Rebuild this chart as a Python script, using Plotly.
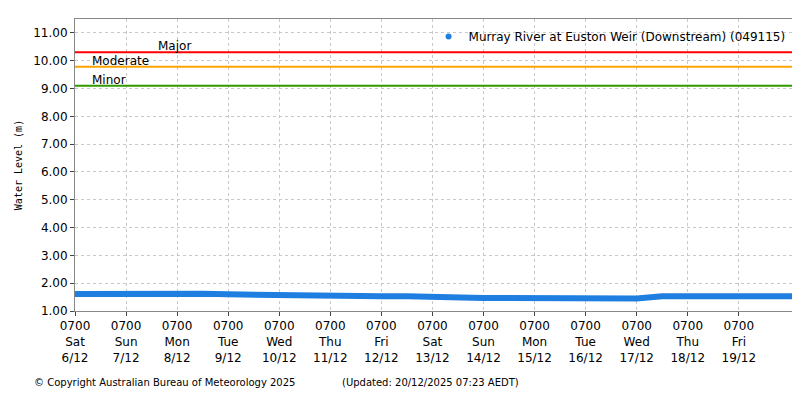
import pandas as pd
import plotly.graph_objects as go

# water level readings, every 12 hours from 0700 6/12
levels = [1.61, 1.62, 1.63, 1.63, 1.63, 1.62, 1.60, 1.58, 1.57, 1.56, 1.55, 1.54,
          1.53, 1.53, 1.50, 1.48, 1.47, 1.47, 1.46, 1.46, 1.45, 1.45, 1.45, 1.53,
          1.52, 1.51, 1.52, 1.53, 1.51, 1.53]
times = pd.date_range("2025-12-06 07:00", periods=len(levels), freq="12h")

thresholds = {"Major": 10.3, "Moderate": 9.78, "Minor": 9.1}
threshold_colors = {"Major": "#ff0000", "Moderate": "#ffa500", "Minor": "#339900"}
label_x = {"Major": "2025-12-07 21:00", "Moderate": "2025-12-06 14:00", "Minor": "2025-12-06 14:00"}

days = pd.date_range("2025-12-06 07:00", periods=14, freq="D")
tick_text = [f"0700<br>{d.strftime('%a')}<br>{d.day}/{d.month}" for d in days]
x_end = pd.Timestamp("2025-12-20 08:00")
series_name = "Murray River at Euston Weir (Downstream) (049115)"

fig = go.Figure()
for name, lvl in thresholds.items():
    fig.add_trace(go.Scatter(x=[days[0], x_end], y=[lvl, lvl], mode="lines",
                             line=dict(color=threshold_colors[name], width=2),
                             showlegend=False, hoverinfo="skip"))
    fig.add_annotation(x=label_x[name], y=lvl, text=name, showarrow=False,
                       yanchor="bottom", xanchor="left", yshift=-3,
                       font=dict(size=12, color="black"))

fig.add_trace(go.Scatter(x=times, y=levels, mode="lines", name=series_name,
                         showlegend=False,
                         line=dict(color="#1f7fe0", width=6)))
# legend entry with a dot marker
fig.add_trace(go.Scatter(x=[None], y=[None], mode="markers", name=series_name,
                         marker=dict(color="#1f7fe0", size=6)))

fig.update_layout(
    width=800, height=400, margin=dict(l=57, r=16, t=10, b=97),
    plot_bgcolor="white", paper_bgcolor="white",
    font=dict(family="DejaVu Sans", size=12, color="black"),
    legend=dict(x=0.998, y=0.99, xanchor="right", yanchor="top",
                bgcolor="rgba(0,0,0,0)", itemwidth=30),
    showlegend=True,
)
fig.update_xaxes(range=[days[0], x_end], tickvals=list(days), ticktext=tick_text,
                 showgrid=True, gridcolor="#c8c8c8", griddash="dot",
                 showline=True, linecolor="#888", mirror=True,
                 ticks="outside", ticklen=4, tickfont=dict(size=12))
fig.update_yaxes(range=[1, 11.5], tickvals=list(range(1, 12)),
                 ticktext=[f"{v:.2f}" for v in range(1, 12)],
                 showgrid=True, gridcolor="#c8c8c8", griddash="dot",
                 showline=True, linecolor="#888", mirror=True,
                 ticks="outside", ticklen=4,
                 title=dict(text="Water Level (m)", standoff=8,
                            font=dict(family="DejaVu Sans Mono", size=10)))

fig.add_annotation(xref="paper", yref="paper", x=-0.06, y=-0.27, xanchor="left",
                   text="© Copyright Australian Bureau of Meteorology 2025",
                   showarrow=False, font=dict(size=10))
fig.add_annotation(xref="paper", yref="paper", x=0.37, y=-0.27, xanchor="left",
                   text="(Updated: 20/12/2025 07:23 AEDT)",
                   showarrow=False, font=dict(size=10))

fig.write_html("out.html")
